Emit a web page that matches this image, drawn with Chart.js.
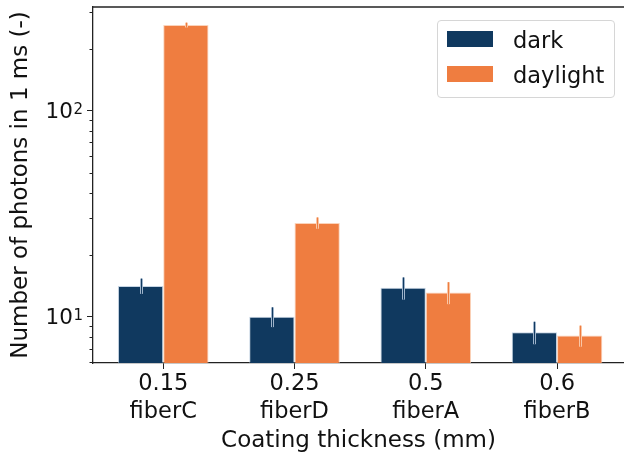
<!DOCTYPE html>
<html>
<head>
<meta charset="utf-8">
<script src="https://cdn.jsdelivr.net/npm/chart.js@4/dist/chart.umd.min.js"></script>
<style>
  html, body { margin: 0; padding: 0; background: #fff; overflow: hidden; }
  #wrap { position: relative; width: 624px; height: 457px; }
  #legend {
    position: absolute; left: 437px; top: 20px; width: 176px; height: 76px;
    border: 1px solid #d6d6d6; border-radius: 4px; background: rgba(255,255,255,0.8);
    font-family: "DejaVu Sans", sans-serif; font-size: 22.5px; color: #111;
  }
  .row { position: absolute; left: 9px; height: 16px; }
  .sw { position: absolute; left: 0; top: 0; width: 46px; height: 16px; }
  .lab { position: absolute; left: 66px; top: -4px; line-height: 26px; white-space: nowrap; }
</style>
</head>
<body>
<div id="wrap">
  <canvas id="mycanvas" width="624" height="457"></canvas>
  <div id="legend"></div>
</div>
<script>
var thickness = ["0.15", "0.25", "0.5", "0.6"];
var fibers = ["fiberC", "fiberD", "fiberA", "fiberB"];
var seriesNames = ["dark", "daylight"];
var dark = [14.1, 10.0, 13.8, 8.4];
var darkErr = [1.2, 1.1, 1.7, 1.05];
var daylight = [260, 28.5, 13.1, 8.1];
var daylightErr = [7, 1.8, 1.6, 0.95];
var yMajorTicks = [10, 100];
var yMajorLabels = [["10", "1"], ["10", "2"]];
var yMinorTicks = [6, 7, 8, 9, 20, 30, 40, 50, 60, 70, 80, 90, 200, 300];

var colors = ["#10395f", "#ef7d40"];
var paleColors = ["#9fb4cb", "#f9c6a6"];

Chart.defaults.font.family = "'DejaVu Sans', sans-serif";
Chart.defaults.color = "#111";

function toPoints(vals) {
  return vals.map(function (v, i) { return { x: i, y: v }; });
}

var errors = [darkErr, daylightErr];
var values = [dark, daylight];

var errorBars = {
  id: "errorBars",
  afterDatasetsDraw: function (chart) {
    var ctx = chart.ctx;
    var y = chart.scales.y;
    chart.data.datasets.forEach(function (ds, d) {
      var meta = chart.getDatasetMeta(d);
      meta.data.forEach(function (bar, i) {
        var v = values[d][i], e = errors[d][i];
        var top = y.getPixelForValue(v + e);
        var bot = y.getPixelForValue(v - e);
        var x = Math.round(bar.x) + 0.5;
        ctx.save();
        ctx.lineWidth = 3;
        ctx.strokeStyle = paleColors[d];
        ctx.beginPath(); ctx.moveTo(x, top); ctx.lineTo(x, bot); ctx.stroke();
        ctx.lineWidth = 1;
        ctx.strokeStyle = colors[d];
        ctx.beginPath(); ctx.moveTo(x, top); ctx.lineTo(x, bot); ctx.stroke();
        ctx.restore();
      });
    });
  }
};

// top spine, minor log ticks and 10^n labels
var frame = {
  id: "frame",
  afterDraw: function (chart) {
    var ctx = chart.ctx, a = chart.chartArea, y = chart.scales.y;
    ctx.save();
    ctx.strokeStyle = "#222";
    ctx.lineWidth = 1.3;
    ctx.beginPath();
    ctx.moveTo(a.left, a.top); ctx.lineTo(a.right, a.top);
    ctx.stroke();
    ctx.lineWidth = 1;
    yMinorTicks.forEach(function (t) {
      var py = Math.round(y.getPixelForValue(t)) + 0.5;
      ctx.beginPath(); ctx.moveTo(a.left - 3.5, py); ctx.lineTo(a.left, py); ctx.stroke();
    });
    ctx.fillStyle = "#111";
    ctx.textAlign = "right";
    ctx.textBaseline = "alphabetic";
    yMajorTicks.forEach(function (t, i) {
      var py = y.getPixelForValue(t);
      var right = a.left - 10;
      ctx.font = "15px 'DejaVu Sans'";
      var w = ctx.measureText(yMajorLabels[i][1]).width;
      ctx.fillText(yMajorLabels[i][1], right, py + 3.5);
      ctx.font = "21.5px 'DejaVu Sans'";
      ctx.fillText(yMajorLabels[i][0], right - w - 0.5, py + 7.8);
    });
    ctx.restore();
  }
};

var chartdata = {
  datasets: [
    {
      label: seriesNames[0],
      data: toPoints(dark),
      backgroundColor: colors[0],
      borderColor: "rgba(160,185,210,0.6)",
      borderWidth: 1
    },
    {
      label: seriesNames[1],
      data: toPoints(daylight),
      backgroundColor: colors[1],
      borderColor: "rgba(250,200,170,0.8)",
      borderWidth: 1
    }
  ]
};

var ctx = document.getElementById("mycanvas");
var barGraph = new Chart(ctx, {
  type: "bar",
  data: chartdata,
  plugins: [errorBars, frame],
  options: {
    responsive: false,
    animation: false,
    devicePixelRatio: 1,
    layout: { padding: { top: 7, right: 0, left: 0, bottom: 0 } },
    datasets: { bar: { categoryPercentage: 0.69, barPercentage: 1.0 } },
    plugins: { legend: { display: false }, tooltip: { enabled: false } },
    scales: {
      x: {
        type: "linear",
        offset: false,
        min: -0.535,
        max: 3.51,
        afterBuildTicks: function (scale) {
          scale.ticks = thickness.map(function (t, i) { return { value: i }; });
        },
        afterFit: function (scale) { scale.height = 94; },
        grid: { offset: false, drawOnChartArea: false, drawTicks: true, tickLength: 6, color: "#222" },
        border: { display: true, color: "#222", width: 1.3 },
        ticks: {
          autoSkip: false, maxRotation: 0, padding: 1,
          font: { size: 22.5, lineHeight: 28 / 22.5 },
          callback: function (v) { return [thickness[v], fibers[v]]; }
        },
        title: {
          display: true, text: "Coating thickness (mm)",
          font: { size: 23, lineHeight: 1.2 }, padding: { top: 0, bottom: 2 }
        }
      },
      y: {
        type: "logarithmic",
        min: 5.96,
        max: 318,
        afterBuildTicks: function (scale) {
          scale.ticks = yMajorTicks.map(function (t) { return { value: t, major: true }; });
        },
        afterFit: function (scale) { scale.width = 93; },
        grid: { drawOnChartArea: false, drawTicks: true, tickLength: 6, color: "#222" },
        border: { display: true, color: "#222", width: 1.3 },
        ticks: { display: false },
        title: {
          display: true, text: "Number of photons in 1 ms (-)",
          font: { size: 23, lineHeight: 1.2 }, padding: { top: 7, bottom: 0 }
        }
      }
    }
  }
});

var legend = document.getElementById("legend");
seriesNames.forEach(function (name, i) {
  var row = document.createElement("div");
  row.className = "row";
  row.style.top = (10 + i * 35) + "px";
  row.innerHTML = '<div class="sw" style="background:' + colors[i] + '"></div><div class="lab">' + name + "</div>";
  legend.appendChild(row);
});
</script>
</body>
</html>
